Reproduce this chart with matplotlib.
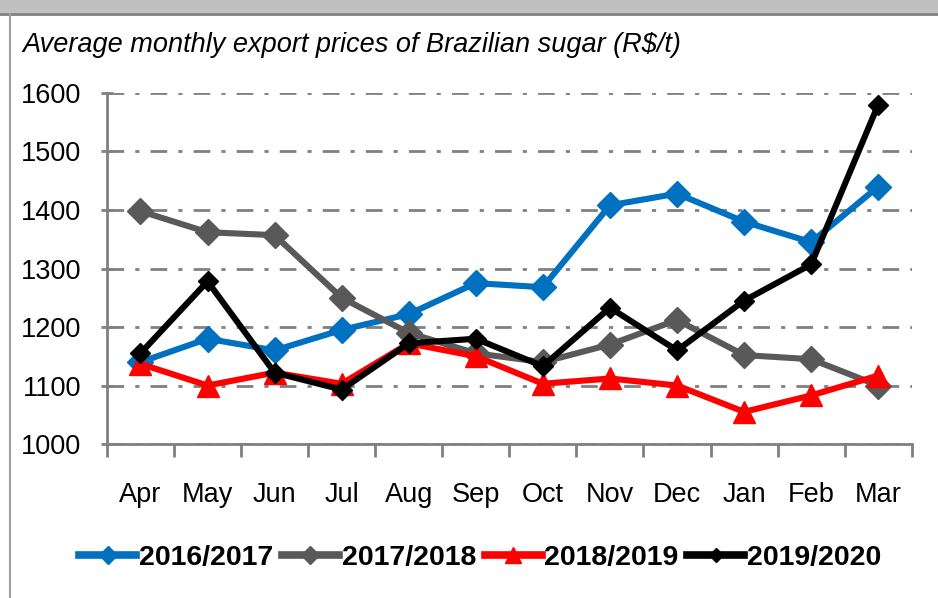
import matplotlib.pyplot as plt
from matplotlib.patches import Rectangle
from matplotlib.lines import Line2D

plt.rcParams['font.family'] = ['Liberation Sans Narrow', 'Liberation Sans', 'DejaVu Sans']

months = ['Apr', 'May', 'Jun', 'Jul', 'Aug', 'Sep', 'Oct', 'Nov', 'Dec', 'Jan', 'Feb', 'Mar']
s2016 = [1140, 1180, 1160, 1195, 1222, 1275, 1268, 1408, 1428, 1380, 1345, 1440]
s2017 = [1398, 1362, 1357, 1250, 1190, 1155, 1140, 1170, 1212, 1152, 1145, 1100]
s2018 = [1137, 1100, 1122, 1103, 1172, 1150, 1103, 1112, 1100, 1055, 1083, 1117]
s2019 = [1155, 1278, 1122, 1093, 1172, 1180, 1133, 1233, 1160, 1245, 1307, 1580]
labels = ['2016/2017', '2017/2018', '2018/2019', '2019/2020']
colors = ['#0070C0', '#595959', '#FF0000', '#000000']
yticks = [1000, 1100, 1200, 1300, 1400, 1500, 1600]

fig = plt.figure(figsize=(9.38, 5.98), dpi=100)
# window-like frame
fig.patches.append(Rectangle((0, 0.978), 1, 0.022, transform=fig.transFigure,
                             facecolor='#c0c0c0', edgecolor='none'))
fig.add_artist(Line2D([0, 1], [0.977, 0.977], transform=fig.transFigure, color='#808080', lw=2))
fig.add_artist(Line2D([0.011, 0.011], [0, 0.977], transform=fig.transFigure, color='#a0a0a0', lw=1.5))

ax = fig.add_axes([0.114, 0.2575, 0.858, 0.587])
x = list(range(len(months)))
ax.plot(x, s2016, color=colors[0], lw=4.4, marker='D', ms=13)
ax.plot(x, s2017, color=colors[1], lw=4.4, marker='D', ms=13)
ax.plot(x, s2018, color=colors[2], lw=4.4, marker='^', ms=16)
ax.plot(x, s2019, color=colors[3], lw=4.4, marker='D', ms=10)

ax.set_xlim(-0.5, 11.5)
ax.set_ylim(1000, 1600)
ax.set_yticks(yticks)
ax.set_yticklabels([str(v) for v in yticks], fontsize=19.5)
ax.set_xticks([i - 0.5 for i in range(13)])
ax.set_xticklabels([])
ax.set_xticks(x, minor=True)
ax.set_xticklabels(months, minor=True, fontsize=19.5)
ax.tick_params(axis='x', which='major', length=9, width=2, color='#808080', direction='out')
ax.tick_params(axis='x', which='minor', length=0, pad=27)
ax.tick_params(axis='y', length=9, width=2, color='#808080', direction='inout', pad=14)
ax.yaxis.grid(True, color='#808080', lw=2, linestyle=(0, (6, 4, 1.5, 4)))
ax.set_axisbelow(True)
for sp in ['top', 'right']:
    ax.spines[sp].set_visible(False)
for sp in ['left', 'bottom']:
    ax.spines[sp].set_color('#808080')
    ax.spines[sp].set_linewidth(2)

fig.text(0.024, 0.925, 'Average monthly export prices of Brazilian sugar (R$/t)',
         fontsize=19.5, style='italic', va='center', ha='left')

handles = [Line2D([], [], color=colors[0], lw=5.5, marker='D', ms=9),
           Line2D([], [], color=colors[1], lw=5.5, marker='D', ms=9),
           Line2D([], [], color=colors[2], lw=5.5, marker='^', ms=11),
           Line2D([], [], color=colors[3], lw=5.5, marker='D', ms=7)]
fig.legend(handles, labels, loc='center', bbox_to_anchor=(0.512, 0.067), ncol=4, frameon=False,
           prop={'size': 20.5, 'weight': 'bold'}, handlelength=2.0, handletextpad=0.1,
           columnspacing=0.3)

fig.savefig('out.png', dpi=100)
